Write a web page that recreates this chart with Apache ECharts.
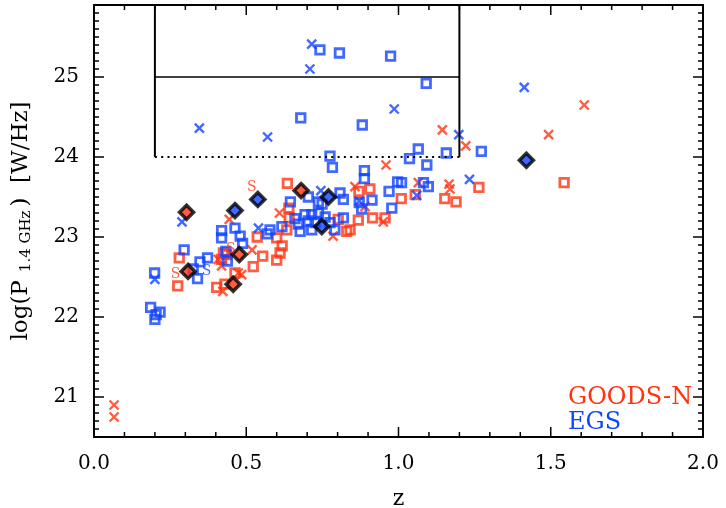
<!DOCTYPE html>
<html><head><meta charset="utf-8">
<script src="https://cdn.jsdelivr.net/npm/echarts@6/dist/echarts.min.js"></script>
<style>html,body{margin:0;padding:0;background:#fff}#c{width:726px;height:508px}</style>
</head><body><div id="c"></div>
<script>
const RED = '#ff3311', BLUE = '#1144ff';
const FONT = 'DejaVu Serif';
const zRange = [0, 2];
const logPRange = [20.5, 25.9];
const boxZ = [0.2, 1.2];
const boxLogP = [24, 25];
const legendNames = ['GOODS-N', 'EGS'];
const xTickValues = [0, 0.5, 1, 1.5, 2];
const xTickLabels = ['0.0', '0.5', '1.0', '1.5', '2.0'];
const xMinorStep = 0.1;
const yTickValues = [21, 22, 23, 24, 25];
const yTickLabels = ['21', '22', '23', '24', '25'];
const yMinorStep = 0.1;

// GOODS-N
const goodsSquares = [
  [0.635,23.67],[0.906,23.60],[0.870,23.57],[1.264,23.62],[1.544,23.68],[1.152,23.48],[1.189,23.44],[1.055,23.53],[1.009,23.48],
  [0.640,23.36],[0.641,23.24],[0.633,23.09],[0.600,22.99],[0.618,22.89],[0.611,22.80],[0.600,22.71],[0.554,22.76],[0.523,22.63],
  [0.536,23.00],[0.915,23.24],[0.956,23.24],[0.868,23.21],[0.841,23.09],[0.802,23.22],[0.830,23.07],[0.280,22.74],[0.275,22.39],
  [0.436,22.78],[0.419,22.72],[0.425,22.80],[0.463,22.55],[0.403,22.37],[0.430,22.41]
];
const goodsCrosses = [
  [0.959,23.90],[1.144,24.34],[1.493,24.28],[1.610,24.65],[1.221,24.14],[1.166,23.66],[1.169,23.60],[1.065,23.68],[0.857,23.63],
  [0.444,23.22],[0.609,23.30],[0.950,23.19],[0.785,23.01],[0.890,23.38],[0.519,22.84],[0.408,22.72],[0.419,22.64],[0.474,22.55],
  [0.485,22.53],[0.423,22.32],[0.066,20.90],[0.066,20.75]
];
const goodsDiamonds = [[0.304,23.31],[0.680,23.58],[0.477,22.78],[0.457,22.41],[0.309,22.57]];
const goodsS = [[0.518,23.62],[0.268,22.53],[0.449,22.85]];

// EGS
const egsSquares = [
  [0.742,25.34],[0.806,25.30],[0.974,25.26],[1.091,24.92],[0.679,24.49],[0.881,24.40],[0.775,24.01],[0.783,23.87],[0.888,23.83],
  [0.888,23.73],[1.036,23.98],[1.065,24.10],[1.157,24.05],[1.093,23.90],[1.272,24.07],[1.010,23.68],[0.997,23.69],[1.082,23.68],
  [1.098,23.63],[0.969,23.57],[0.978,23.36],[0.808,23.55],[0.819,23.47],[0.737,23.44],[0.704,23.50],[0.645,23.44],[0.913,23.46],
  [0.871,23.43],[0.879,23.35],[0.819,23.24],[0.759,23.25],[0.775,23.18],[0.693,23.28],[0.715,23.28],[0.737,23.30],[0.704,23.20],
  [0.726,23.18],[0.671,23.16],[0.715,23.09],[0.749,23.41],[0.791,23.09],[0.677,23.07],[0.660,23.23],[0.617,23.13],[0.578,23.09],
  [0.569,23.04],[0.419,23.08],[0.419,22.99],[0.463,23.11],[0.480,23.01],[0.488,22.92],[0.296,22.84],[0.348,22.69],[0.373,22.74],
  [0.340,22.48],[0.326,22.60],[0.199,22.55],[0.433,22.82],[0.438,22.70],[0.186,22.12],[0.204,22.03],[0.217,22.06],[0.200,21.97]
];
const egsCrosses = [
  [0.715,25.41],[0.709,25.10],[0.986,24.60],[0.346,24.36],[0.570,24.25],[1.413,24.87],[1.198,24.28],[1.233,23.72],[1.060,23.52],
  [0.745,23.58],[0.289,23.19],[0.540,23.11],[0.200,22.47],[0.871,23.45]
];
const egsDiamonds = [[0.463,23.33],[0.538,23.47],[0.770,23.50],[0.748,23.13],[1.420,23.96]];
const egsS = [[0.370,22.57]];

const CROSS = 'path://M0,0L10,10M10,0L0,10';

function squares(name, data, color) {
  return {type:'scatter', name, data, symbol:'rect', symbolSize:8.5,
    itemStyle:{color:'rgba(0,0,0,0)', borderColor:color, borderWidth:2.8}};
}
function crosses(name, data, color) {
  return {type:'scatter', name, data, symbol:CROSS, symbolSize:9,
    itemStyle:{color:'rgba(0,0,0,0)', borderColor:color, borderWidth:2.4}};
}
function diamonds(name, data, color) {
  return {type:'scatter', name, data, symbol:'diamond', symbolSize:14,
    itemStyle:{color:color, borderColor:'#000', borderWidth:3.5}};
}
function sLabels(name, data, color) {
  return {type:'scatter', name, data, symbol:'circle', symbolSize:1,
    itemStyle:{color:'rgba(0,0,0,0)'},
    label:{show:true, formatter:'S', position:'inside', color:color, fontFamily:FONT, fontSize:14}};
}
function boxLine(data, width, type) {
  return {type:'line', name:'box', data, symbol:'none',
    lineStyle:{color:'#000', width, type}};
}

function xAxisOpt(pos, named) {
  const o = {type:'value', position:pos, min:zRange[0], max:zRange[1], interval:0.5,
    axisLine:{show:true, onZero:false, lineStyle:{color:'#000', width:2}},
    axisTick:{show:false}, minorTick:{show:false},
    splitLine:{show:false}, minorSplitLine:{show:false},
    axisLabel:{show:false}};
  if (named) {
    o.name = 'z'; o.nameLocation = 'middle'; o.nameGap = 51;
    o.nameTextStyle = {color:'#000', fontFamily:FONT, fontSize:22};
  }
  return o;
}
function yAxisOpt(pos, named) {
  const o = {type:'value', position:pos, min:logPRange[0], max:logPRange[1], splitNumber:5,
    axisLine:{show:true, onZero:false, lineStyle:{color:'#000', width:2}},
    axisTick:{show:false}, minorTick:{show:false},
    splitLine:{show:false}, minorSplitLine:{show:false},
    axisLabel:{show:false}};
  if (named) {
    o.name = '{a|log(P}{sub|1.4 GHz}{a|)  [W/Hz]}'; o.nameLocation = 'middle'; o.nameGap = 60; o.nameRotate = 90;
    o.nameTextStyle = {color:'#000', fontFamily:FONT, fontSize:23,
      rich:{a:{fontFamily:FONT, fontSize:23, color:'#000'}, sub:{fontFamily:FONT, fontSize:15, color:'#000', padding:[10,4,0,8]}}};
  }
  return o;
}

const chart = echarts.init(document.getElementById('c'));
chart.setOption({
  animation:false,
  grid:{left:94, right:23, top:5, bottom:71, outerBoundsMode:'none'},
  legend:{orient:'vertical', left:558, top:380, icon:'none', itemWidth:0, itemHeight:10, itemGap:0,
    selectedMode:false,
    textStyle:{fontFamily:FONT, fontSize:24, lineHeight:25},
    data:[{name:legendNames[0], textStyle:{color:RED}}, {name:legendNames[1], textStyle:{color:BLUE}}]},
  xAxis:[xAxisOpt('bottom', true), xAxisOpt('top', false)],
  yAxis:[yAxisOpt('left', true), yAxisOpt('right', false)],
  series:[
    boxLine([[boxZ[0],boxLogP[0]],[boxZ[0],logPRange[1]]], 2, 'solid'),
    boxLine([[boxZ[1],boxLogP[0]],[boxZ[1],logPRange[1]]], 2, 'solid'),
    boxLine([[boxZ[0],boxLogP[1]],[boxZ[1],boxLogP[1]]], 1.5, 'solid'),
    boxLine([[boxZ[0],boxLogP[0]],[boxZ[1],boxLogP[0]]], 2, [2,4.3]),
    squares(legendNames[0], goodsSquares, RED),
    crosses(legendNames[0], goodsCrosses, RED),
    squares(legendNames[1], egsSquares, BLUE),
    crosses(legendNames[1], egsCrosses, BLUE),
    diamonds(legendNames[0], goodsDiamonds, RED),
    diamonds(legendNames[1], egsDiamonds, BLUE),
    sLabels(legendNames[0], goodsS, RED),
    sLabels(legendNames[1], egsS, BLUE)
  ]
});

// Tick marks and tick labels placed through the chart's own scales
const toPx = (x, y) => chart.convertToPixel({gridIndex:0}, [x, y]);
const corner0 = toPx(zRange[0], logPRange[0]);
const corner1 = toPx(zRange[1], logPRange[1]);
const gL = corner0[0], gB = corner0[1], gR = corner1[0], gT = corner1[1];
const labelFont = '20px "DejaVu Serif"';
const graphics = [];
const tickStyle = {stroke:'#000', lineWidth:1.5};
function tickLine(x1, y1, x2, y2) {
  graphics.push({type:'line', silent:true, z:10, shape:{x1, y1, x2, y2}, style:tickStyle});
}
function isMajor(v, majors) { return majors.some(m => Math.abs(m - v) < 1e-6); }

// x ticks (bottom and top)
const nx = Math.round((zRange[1] - zRange[0]) / xMinorStep);
for (let i = 1; i < nx; i++) {
  const v = zRange[0] + i * xMinorStep;
  const len = isMajor(v, xTickValues) ? 10 : 5;
  const px = toPx(v, logPRange[0])[0];
  tickLine(px, gB, px, gB - len);
  tickLine(px, gT, px, gT + len);
}
// y ticks (left and right)
const ny = Math.round((logPRange[1] - logPRange[0]) / yMinorStep);
for (let i = 1; i < ny; i++) {
  const v = logPRange[0] + i * yMinorStep;
  const len = isMajor(v, yTickValues) ? 10 : 5;
  const py = toPx(zRange[0], v)[1];
  tickLine(gL, py, gL + len, py);
  tickLine(gR, py, gR - len, py);
}

xTickValues.forEach((v, i) => {
  const p = toPx(v, logPRange[0]);
  graphics.push({type:'text', x:p[0], y:p[1] + 17, silent:true,
    style:{text:xTickLabels[i], fill:'#000', font:labelFont, align:'center', verticalAlign:'top',
      textAlign:'center', textVerticalAlign:'top'}});
});
yTickValues.forEach((v, i) => {
  const p = toPx(zRange[0], v);
  graphics.push({type:'text', x:p[0] - 15, y:p[1], silent:true,
    style:{text:yTickLabels[i], fill:'#000', font:labelFont, align:'right', verticalAlign:'middle',
      textAlign:'right', textVerticalAlign:'middle'}});
});
chart.setOption({graphic:graphics});
</script></body></html>
